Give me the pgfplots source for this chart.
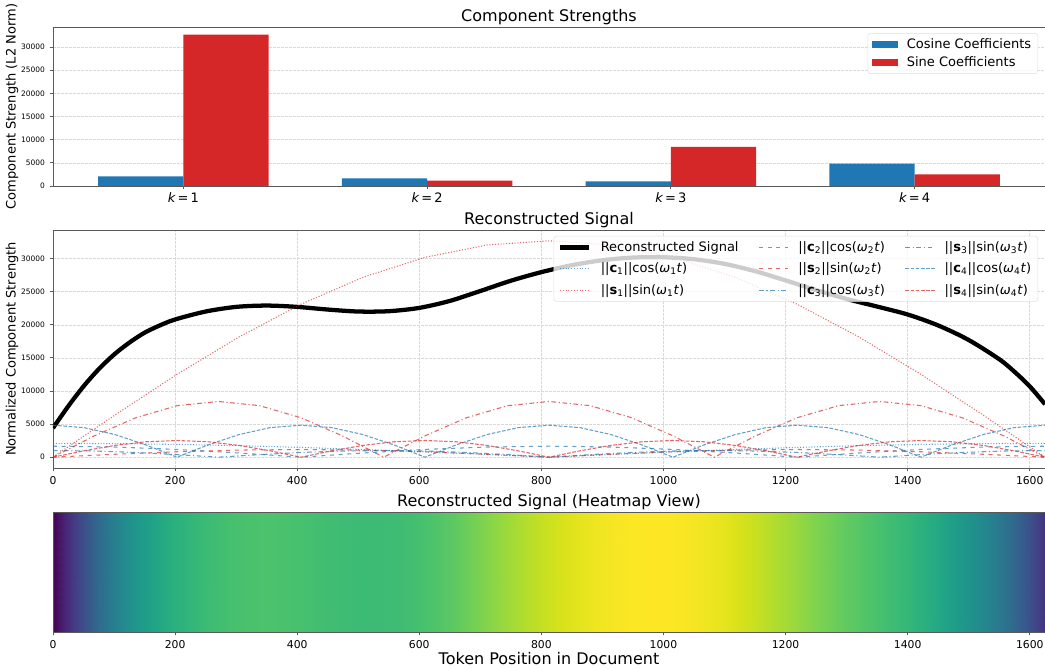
\documentclass[border=0pt]{standalone}
\usepackage{pgfplots}
\usepackage{pgfplotstable}
\pgfplotsset{compat=1.18}
\usepackage{fontspec}
\setmainfont{DejaVu Sans}
\definecolor{mblue}{HTML}{1F77B4}
\definecolor{mred}{HTML}{D62728}
\definecolor{spine}{HTML}{595959}
\newcommand{\ftitle}{\fontsize{12}{14}\selectfont}
\newcommand{\flab}{\fontsize{9.75}{11.5}\selectfont}
\newcommand{\ftickx}{\fontsize{8.1}{9.5}\selectfont}
\newcommand{\fticky}{\fontsize{5.6}{6.5}\selectfont}
\newcommand{\cn}[1]{||\textbf{c}\textsubscript{#1}||cos(\textit{ω}\textsubscript{#1}\textit{t})}
\newcommand{\sn}[1]{||\textbf{s}\textsubscript{#1}||sin(\textit{ω}\textsubscript{#1}\textit{t})}
\tikzset{
  dot/.style={line width=0.8pt, opacity=0.7, dash pattern=on 0.8pt off 1.3pt},
  dsh/.style={line width=0.8pt, opacity=0.7, dash pattern=on 3pt off 3.5pt},
  dd/.style={line width=0.8pt, opacity=0.7, dash pattern=on 3.5pt off 2pt on 0.8pt off 2pt},
  dns/.style={line width=0.8pt, opacity=0.7, dash pattern=on 2.7pt off 1.2pt},
}
\pgfplotsset{
  base/.style={
    scale only axis, width=744pt,
    axis line style={spine, line width=0.6pt},
    tick style={spine, line width=0.6pt},
    tick align=outside, major tick length=2.6pt, tick pos=left,
    scaled ticks=false,
    /pgf/number format/assume math mode=true,
    /pgf/number format/1000 sep={},
    /pgf/number format/fixed,
    title style={font=\ftitle, at={(0.5,1)}, anchor=base, yshift=-1.9pt},
    label style={font=\flab},
    ylabel style={at={(axis description cs:-0.0413,0.5)}, anchor=center},
    grid style={gray!30, line width=0.4pt, dash pattern=on 2pt off 1pt},
    xticklabel style={font=\ftickx},
    yticklabel style={font=\fticky},
  },
}
\pgfplotstableread{
t v
0 4400
25 7700
50 10700
75 13300
100 15500
125 17300
150 18800
175 19900
200 20800
250 22000
300 22700
350 22900
400 22700
450 22300
500 22000
550 22050
600 22550
650 23600
700 25100
750 26650
800 27950
850 29000
900 29750
950 30150
1000 30200
1050 29900
1100 29200
1150 28100
1200 26700
1250 25250
1300 23900
1350 22750
1400 21550
1450 19900
1500 17700
1550 14800
1575 12900
1600 10700
1625 8000
}\sig
\pgfplotstableread{
t y z v
0 0 0 4400
25 0 0 7700
50 0 0 10700
75 0 0 13300
100 0 0 15500
125 0 0 17300
150 0 0 18800
175 0 0 19900
200 0 0 20800
250 0 0 22000
300 0 0 22700
350 0 0 22900
400 0 0 22700
450 0 0 22300
500 0 0 22000
550 0 0 22050
600 0 0 22550
650 0 0 23600
700 0 0 25100
750 0 0 26650
800 0 0 27950
850 0 0 29000
900 0 0 29750
950 0 0 30150
1000 0 0 30200
1050 0 0 29900
1100 0 0 29200
1150 0 0 28100
1200 0 0 26700
1250 0 0 25250
1300 0 0 23900
1350 0 0 22750
1400 0 0 21550
1450 0 0 19900
1500 0 0 17700
1550 0 0 14800
1575 0 0 12900
1600 0 0 10700
1625 0 0 8000
0 1 0 4400
25 1 0 7700
50 1 0 10700
75 1 0 13300
100 1 0 15500
125 1 0 17300
150 1 0 18800
175 1 0 19900
200 1 0 20800
250 1 0 22000
300 1 0 22700
350 1 0 22900
400 1 0 22700
450 1 0 22300
500 1 0 22000
550 1 0 22050
600 1 0 22550
650 1 0 23600
700 1 0 25100
750 1 0 26650
800 1 0 27950
850 1 0 29000
900 1 0 29750
950 1 0 30150
1000 1 0 30200
1050 1 0 29900
1100 1 0 29200
1150 1 0 28100
1200 1 0 26700
1250 1 0 25250
1300 1 0 23900
1350 1 0 22750
1400 1 0 21550
1450 1 0 19900
1500 1 0 17700
1550 1 0 14800
1575 1 0 12900
1600 1 0 10700
1625 1 0 8000
}\heat
\begin{document}
\begin{tikzpicture}
\useasboundingbox (0,0) rectangle (783.75pt,501.75pt);
% ---------------- top: bars
\begin{axis}[base, at={(39.75pt,481.5pt)}, anchor=north west, height=119.25pt,
  ybar, bar width=0.35,
  xmin=-0.535, xmax=3.535, ymin=0, ymax=34314,
  xtick={0,1,2,3},
  xticklabels={{\itshape k}\,=\,1,{\itshape k}\,=\,2,{\itshape k}\,=\,3,{\itshape k}\,=\,4},
  xticklabel style={font=\flab, yshift=1.5pt},
  ytick={0,5000,...,30000},
  ymajorgrids,
  title={Component Strengths},
  ylabel={Component Strength (L2 Norm)},
  legend cell align=left,
  legend style={at={(0.993,0.962)}, anchor=north east, font=\flab,
    draw=gray!25, rounded corners=2pt, fill=white, fill opacity=0.8, text opacity=1,
    inner xsep=3pt, inner ysep=2pt, row sep=0.5pt,
    /tikz/every odd column/.append style={column sep=5pt}},
  legend image code/.code={\fill[#1, sharp corners, fill opacity=1] (0pt,-2.75pt) rectangle (19.2pt,2.75pt);},
]
\addplot[fill=mblue, draw=none, bar shift=-0.175] coordinates {(0,2090) (1,1660) (2,1010) (3,4830)};
\addlegendentry{Cosine Coefficients}
\addplot[fill=mred, draw=none, bar shift=0.175] coordinates {(0,32680) (1,1160) (2,8420) (3,2520)};
\addlegendentry{Sine Coefficients}
\end{axis}
% ---------------- middle: signal
\begin{axis}[base, at={(39.75pt,329.25pt)}, anchor=north west, height=178.5pt,
  xmin=0, xmax=1625, ymin=-1634, ymax=34314,
  xtick={0,200,...,1600}, ytick={0,5000,...,30000},
  grid=major,
  title={Reconstructed Signal},
  ylabel={Normalized Component Strength},
  legend columns=3,
  legend cell align=left,
  legend style={at={(0.993,0.975)}, anchor=north east, font=\flab,
    draw=gray!25, rounded corners=2pt, fill=white, fill opacity=0.8, text opacity=1,
    inner xsep=3pt, inner ysep=2pt, row sep=3pt,
    /tikz/every odd column/.append style={column sep=5pt},
    /tikz/every even column/.append style={column sep=13pt}},
  legend image code/.code={\draw[#1, sharp corners] (0pt,0pt) -- (22pt,0pt);},
]
\addplot[black, line width=3.2pt, smooth, forget plot] table[x=t,y=v]{\sig};
% k=1
\addplot[mblue, dot, forget plot] coordinates {(0,2090) (101.6,2050) (203.1,1931) (304.7,1738) (406.3,1478) (507.8,1161) (609.4,800) (710.9,408) (812.5,0) (914.1,408) (1015.6,800) (1117.2,1161) (1218.8,1478) (1320.3,1738) (1421.9,1931) (1523.4,2050) (1625,2090)};
\addplot[mred, dot, forget plot] coordinates {(0,0) (101.6,6376) (203.1,12506) (304.7,18156) (406.3,23108) (507.8,27172) (609.4,30192) (710.9,32052) (812.5,32680) (914.1,32052) (1015.6,30192) (1117.2,27172) (1218.8,23108) (1320.3,18156) (1421.9,12506) (1523.4,6376) (1625,0)};
% k=2
\addplot[mblue, dsh, forget plot] coordinates {(0,1660) (101.6,1534) (203.1,1174) (304.7,635) (406.3,0) (507.8,635) (609.4,1174) (710.9,1534) (812.5,1660) (914.1,1534) (1015.6,1174) (1117.2,635) (1218.8,0) (1320.3,635) (1421.9,1174) (1523.4,1534) (1625,1660)};
\addplot[mred, dsh, forget plot] coordinates {(0,0) (101.6,444) (203.1,820) (304.7,1072) (406.3,1160) (507.8,1072) (609.4,820) (710.9,444) (812.5,0) (914.1,444) (1015.6,820) (1117.2,1072) (1218.8,1160) (1320.3,1072) (1421.9,820) (1523.4,444) (1625,0)};
% k=3
\addplot[mblue, dd, forget plot] coordinates {(0,1010) (67.7,933) (135.4,714) (203.1,387) (270.8,0) (338.5,387) (406.3,714) (474.0,933) (541.7,1010) (609.4,933) (677.1,714) (744.8,387) (812.5,0) (880.2,387) (947.9,714) (1015.6,933) (1083.3,1010) (1151.0,933) (1218.8,714) (1286.5,387) (1354.2,0) (1421.9,387) (1489.6,714) (1557.3,933) (1625,1010)};
\addplot[mred, dd, forget plot] coordinates {(0,0) (67.7,3222) (135.4,5954) (203.1,7779) (270.8,8420) (338.5,7779) (406.3,5954) (474.0,3222) (541.7,0) (609.4,3222) (677.1,5954) (744.8,7779) (812.5,8420) (880.2,7779) (947.9,5954) (1015.6,3222) (1083.3,0) (1151.0,3222) (1218.8,5954) (1286.5,7779) (1354.2,8420) (1421.9,7779) (1489.6,5954) (1557.3,3222) (1625,0)};
% k=4
\addplot[mblue, dns, forget plot] coordinates {(0,4830) (50.8,4462) (101.6,3415) (152.3,1848) (203.1,0) (253.9,1848) (304.7,3415) (355.5,4462) (406.3,4830) (457.0,4462) (507.8,3415) (558.6,1848) (609.4,0) (660.2,1848) (710.9,3415) (761.7,4462) (812.5,4830) (863.3,4462) (914.1,3415) (964.8,1848) (1015.6,0) (1066.4,1848) (1117.2,3415) (1168.0,4462) (1218.8,4830) (1269.5,4462) (1320.3,3415) (1371.1,1848) (1421.9,0) (1472.7,1848) (1523.4,3415) (1574.2,4462) (1625,4830)};
\addplot[mred, dns, forget plot] coordinates {(0,0) (50.8,964) (101.6,1782) (152.3,2328) (203.1,2520) (253.9,2328) (304.7,1782) (355.5,964) (406.3,0) (457.0,964) (507.8,1782) (558.6,2328) (609.4,2520) (660.2,2328) (710.9,1782) (761.7,964) (812.5,0) (863.3,964) (914.1,1782) (964.8,2328) (1015.6,2520) (1066.4,2328) (1117.2,1782) (1168.0,964) (1218.8,0) (1269.5,964) (1320.3,1782) (1371.1,2328) (1421.9,2520) (1472.7,2328) (1523.4,1782) (1574.2,964) (1625,0)};
\addlegendimage{black, line width=3.2pt}\addlegendentry{Reconstructed Signal}
\addlegendimage{mblue, dsh}\addlegendentry{\cn{2}}
\addlegendimage{mred, dd}\addlegendentry{\sn{3}}
\addlegendimage{mblue, dot}\addlegendentry{\cn{1}}
\addlegendimage{mred, dsh}\addlegendentry{\sn{2}}
\addlegendimage{mblue, dns}\addlegendentry{\cn{4}}
\addlegendimage{mred, dot}\addlegendentry{\sn{1}}
\addlegendimage{mblue, dd}\addlegendentry{\cn{3}}
\addlegendimage{mred, dns}\addlegendentry{\sn{4}}
\end{axis}
% ---------------- bottom: heatmap
\begin{axis}[base, at={(39.75pt,117.75pt)}, anchor=north west, height=90pt,
  view={0}{90}, xmin=0, xmax=1625, ymin=0, ymax=1,
  xtick={0,200,...,1600}, ytick=\empty, ztick=\empty,
  colormap/viridis,
  title={Reconstructed Signal (Heatmap View)},
  xlabel={Token Position in Document},
  xlabel style={font=\ftitle, at={(0.5,0)}, anchor=base, yshift=-24pt},
]
\addplot3[surf, shader=interp, mesh/rows=2, point meta=\thisrow{v}] table[x=t,y=y,z=z]{\heat};
\end{axis}
\end{tikzpicture}
\end{document}
